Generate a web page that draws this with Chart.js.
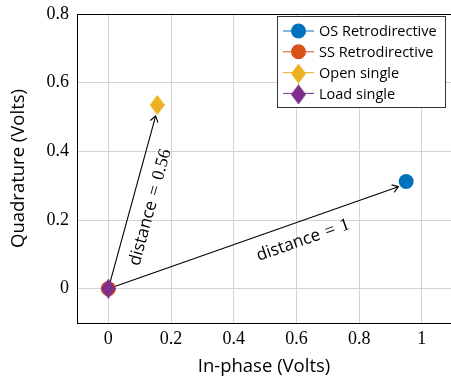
<!DOCTYPE html>
<html><head><meta charset="utf-8">
<script src="https://cdn.jsdelivr.net/npm/chart.js@4.4.0/dist/chart.umd.min.js"></script>
<style>html,body{margin:0;padding:0;background:#fff;overflow:hidden}#wrap{width:451px;height:376px}canvas{display:block}</style>
</head><body><div id="wrap"><canvas id="chart" width="451" height="376"></canvas></div>
<script>
const seriesNames = ['OS Retrodirective', 'SS Retrodirective', 'Open single', 'Load single'];
const seriesColors = ['#0072BD', '#D95319', '#EDB120', '#7E2F8E'];
const seriesShapes = ['circle', 'circle', 'diamond', 'diamond'];
const seriesX = [0.95, 0, 0.156, 0];
const seriesY = [0.312, 0, 0.535, 0];
const xTicks = [0, 0.2, 0.4, 0.6, 0.8, 1];
const yTicks = [0, 0.2, 0.4, 0.6, 0.8];
const arrowFrom = [[0, 0], [0, 0]];
const arrowTo = [[0.925, 0.297], [0.151, 0.503]];
const arrowValues = ['1', '0.56'];
const arrowLabelAt = [0.65, 0.5];

const SERIF = '"Liberation Serif", serif';
const SANS = '"Open Sans", Lato, sans-serif';

function diamond(color, w, h) {
  const c = document.createElement('canvas');
  c.width = w; c.height = h;
  const g = c.getContext('2d');
  g.fillStyle = color;
  g.beginPath();
  g.moveTo(w / 2, 0); g.lineTo(w, h / 2); g.lineTo(w / 2, h); g.lineTo(0, h / 2);
  g.closePath(); g.fill();
  return c;
}

const markers = seriesColors.map((col, i) =>
  seriesShapes[i] === 'diamond' ? diamond(col, 15, 20) : 'circle');

const datasets = seriesNames.map((name, i) => ({
  label: name,
  data: [{ x: seriesX[i], y: seriesY[i] }],
  backgroundColor: seriesColors[i],
  borderColor: seriesColors[i],
  borderWidth: 0,
  pointStyle: markers[i],
  pointRadius: 7.5,
  order: seriesNames.length - i,
}));

const extras = {
  id: 'extras',
  beforeDatasetsDraw(chart) {
    const { ctx, chartArea: a, scales: { x, y } } = chart;
    ctx.save();
    // top frame line
    ctx.strokeStyle = '#000';
    ctx.lineWidth = 1;
    ctx.beginPath();
    ctx.moveTo(a.left, a.top + 0.5); ctx.lineTo(chart.width, a.top + 0.5);
    ctx.stroke();
    // arrows + labels
    arrowTo.forEach((to, i) => {
      const x0 = x.getPixelForValue(arrowFrom[i][0]);
      const y0 = y.getPixelForValue(arrowFrom[i][1]);
      const x1 = x.getPixelForValue(to[0]);
      const y1 = y.getPixelForValue(to[1]);
      const ang = Math.atan2(y1 - y0, x1 - x0);
      ctx.strokeStyle = '#000';
      ctx.lineWidth = 1.1;
      ctx.beginPath();
      ctx.moveTo(x0, y0); ctx.lineTo(x1, y1);
      ctx.stroke();
      const hl = 7, hs = 0.6;
      ctx.beginPath();
      ctx.moveTo(x1 - hl * Math.cos(ang - hs), y1 - hl * Math.sin(ang - hs));
      ctx.lineTo(x1, y1);
      ctx.lineTo(x1 - hl * Math.cos(ang + hs), y1 - hl * Math.sin(ang + hs));
      ctx.stroke();

      const t = arrowLabelAt[i];
      const px = x0 + (x1 - x0) * t, py = y0 + (y1 - y0) * t;
      ctx.save();
      ctx.translate(px, py);
      ctx.rotate(ang);
      ctx.fillStyle = '#000';
      ctx.textBaseline = 'middle';
      ctx.textAlign = 'left';
      const fSans = '17px ' + SANS, fSerif = '18px ' + SERIF;
      ctx.font = fSans;
      const w1 = ctx.measureText('distance').width;
      ctx.font = fSerif;
      const w2 = ctx.measureText('=').width;
      const w3 = ctx.measureText(arrowValues[i]).width;
      const gap = 6;
      const total = w1 + gap + w2 + gap + w3;
      let cx = -total / 2;
      const oy = 19;
      ctx.font = fSans;
      ctx.fillText('distance', cx, oy);
      cx += w1 + gap;
      ctx.font = fSerif;
      ctx.fillText('=', cx, oy);
      cx += w2 + gap;
      ctx.fillText(arrowValues[i], cx, oy);
      ctx.restore();
    });
    ctx.restore();
  },
  afterDraw(chart) {
    const { ctx } = chart;
    ctx.save();
    const bx = 277.5, by = 16.5, bw = 168, bh = 91;
    ctx.fillStyle = '#fff';
    ctx.fillRect(bx, by, bw, bh);
    ctx.strokeStyle = '#333';
    ctx.lineWidth = 1;
    ctx.strokeRect(bx, by, bw, bh);
    chart.data.datasets.forEach((ds, i) => {
      const cy = 31 + i * 20.8;
      ctx.strokeStyle = ds.borderColor;
      ctx.lineWidth = 1;
      ctx.beginPath();
      ctx.moveTo(283, cy); ctx.lineTo(314, cy);
      ctx.stroke();
      const m = markers[i];
      if (m === 'circle') {
        ctx.fillStyle = ds.backgroundColor;
        ctx.beginPath();
        ctx.arc(298.5, cy, 7.5, 0, Math.PI * 2);
        ctx.fill();
      } else {
        ctx.drawImage(m, 298.5 - 7.5, cy - 9);
      }
      ctx.fillStyle = '#000';
      ctx.font = '14.5px ' + SANS;
      ctx.textBaseline = 'middle';
      ctx.fillText(ds.label, 319, cy + 1);
    });
    ctx.restore();
  }
};

new Chart(document.getElementById('chart'), {
  type: 'scatter',
  data: { datasets },
  plugins: [extras],
  options: {
    responsive: false,
    animation: false,
    layout: { autoPadding: false, padding: { top: 14, right: 0, left: 0, bottom: 0 } },
    plugins: { legend: { display: false }, tooltip: { enabled: false } },
    scales: {
      x: {
        type: 'linear',
        min: -0.1,
        max: 1.093,
        afterFit(s) { s.height = 53; s.paddingLeft = 0; s.paddingRight = 0; },
        afterBuildTicks(s) { s.ticks = xTicks.map(v => ({ value: v })); },
        grid: { color: '#d4d4d4', lineWidth: 1, drawTicks: false },
        border: { color: '#000', width: 1 },
        ticks: {
          padding: 5,
          color: '#000',
          font: { family: SERIF, size: 18 },
          callback: v => String(v),
        },
        title: {
          display: true,
          text: 'In-phase (Volts)',
          color: '#000',
          font: { family: SANS, size: 18.5, lineHeight: 1 },
          padding: { top: 0, bottom: 0 },
        },
      },
      y: {
        type: 'linear',
        min: -0.1,
        max: 0.8,
        afterFit(s) { s.width = 77; s.paddingTop = 0; s.paddingBottom = 0; },
        afterBuildTicks(s) { s.ticks = yTicks.map(v => ({ value: v })); },
        grid: { color: '#d4d4d4', lineWidth: 1, drawTicks: false },
        border: { color: '#000', width: 1 },
        ticks: {
          padding: 8,
          color: '#000',
          font: { family: SERIF, size: 18 },
          callback: v => String(v),
        },
        title: {
          display: true,
          text: 'Quadrature (Volts)',
          color: '#000',
          font: { family: SANS, size: 18.5, lineHeight: 1 },
          padding: { top: 9, bottom: 0 },
        },
      },
    },
  },
});
</script>
</body></html>
